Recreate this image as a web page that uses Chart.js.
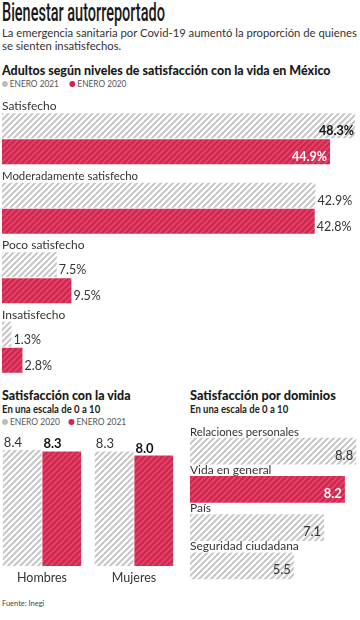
<!DOCTYPE html>
<html lang="es">
<head>
<meta charset="utf-8">
<title>Bienestar autorreportado</title>
<script src="https://cdn.jsdelivr.net/npm/chart.js@4.4.1/dist/chart.umd.min.js"></script>
<style>
  html, body { margin: 0; padding: 0; background: #fff; }
  body { width: 360px; height: 620px; position: relative; overflow: hidden;
         font-family: Lato, "Open Sans", sans-serif; color: #2a2a2a; }
  .abs { position: absolute; white-space: nowrap; transform-origin: left top; }
  canvas { position: absolute; }
  #titulo { left: 2px; top: 0px; font-family: Roboto, sans-serif; font-weight: 500; font-size: 25px; line-height: 26px; color: #1a1a1a; }
  #bajada { left: 2px; top: 27px; font-size: 11.5px; line-height: 12.5px; color: #333; }
  .seccion { font-weight: 900; font-size: 13.5px; color: #1a1a1a; }
  .escala { font-weight: 700; font-size: 11px; color: #222; }
  .leyenda { font-size: 8.5px; color: #555; }
  .punto { display: inline-block; width: 6px; height: 6px; border-radius: 50%; margin-right: 2px; vertical-align: 0px; }
  .gris { background: #bdbdbd; }
  .rojo { background: #d4234c; }
  #fuente { left: 2px; top: 598px; font-size: 8px; color: #444; }
</style>
</head>
<body>
<div class="abs" id="titulo" data-ancho="163">Bienestar autorreportado</div>
<div class="abs" id="bajada" data-ancho="355">La emergencia sanitaria por Covid-19 aumentó la proporción de quienes<br>se sienten insatisfechos.</div>

<div class="abs seccion" style="left:2px; top:62px;" data-ancho="329">Adultos según niveles de satisfacción con la vida en México</div>
<div class="abs leyenda" style="left:2px; top:79px;" data-ancho="124"><span class="punto gris"></span>ENERO 2021 &nbsp;&nbsp;&nbsp;&nbsp;<span class="punto rojo"></span>ENERO 2020</div>
<canvas id="niveles" width="360" height="292" style="left:0; top:92px;"></canvas>

<div class="abs seccion" style="left:2px; top:387px;" data-ancho="129">Satisfacción con la vida</div>
<div class="abs escala" style="left:2px; top:402px;" data-ancho="98">En una escala de 0 a 10</div>
<div class="abs leyenda" style="left:2px; top:417px;" data-ancho="124"><span class="punto gris"></span>ENERO 2020 &nbsp;&nbsp;&nbsp;<span class="punto rojo"></span>ENERO 2021</div>
<canvas id="vida" width="184" height="160" style="left:-4px; top:428px;"></canvas>

<div class="abs seccion" style="left:190px; top:387px;" data-ancho="146">Satisfacción por dominios</div>
<div class="abs escala" style="left:190px; top:402px;" data-ancho="98">En una escala de 0 a 10</div>
<canvas id="dominios" width="170" height="168" style="left:190px; top:420px;"></canvas>

<div class="abs" id="fuente" data-ancho="42">Fuente: Inegi</div>

<script>
// Datos: adultos según niveles de satisfacción (%)
const nivelesCategorias = ['Satisfecho', 'Moderadamente satisfecho', 'Poco satisfecho', 'Insatisfecho'];
const niveles2021 = [48.3, 42.9, 7.5, 1.3];
const niveles2020 = [44.9, 42.8, 9.5, 2.8];

// Datos: satisfacción con la vida (escala 0 a 10)
const vidaCategorias = ['Hombres', 'Mujeres'];
const vida2020 = [8.4, 8.3];
const vida2021 = [8.3, 8.0];

// Datos: satisfacción por dominios (escala 0 a 10)
const dominiosCategorias = ['Relaciones personales', 'Vida en general', 'País', 'Seguridad ciudadana'];
const dominiosValores = [8.8, 8.2, 7.1, 5.5];
const dominioDestacado = 1;

// Ajustar el ancho de los textos (la tipografía original es más angosta)
function ajustarTextos() {
    document.querySelectorAll('[data-ancho]').forEach(el => {
        el.style.transform = 'none';
        const w = el.offsetWidth;
        if (w > 0) el.style.transform = 'scaleX(' + (el.dataset.ancho / w) + ')';
    });
}
ajustarTextos();
if (document.fonts) document.fonts.ready.then(ajustarTextos);

// Rayado diagonal para las barras
function rayado(fondo, raya) {
    const c = document.createElement('canvas');
    c.width = 6; c.height = 6;
    const g = c.getContext('2d');
    g.fillStyle = fondo;
    g.fillRect(0, 0, 6, 6);
    g.strokeStyle = raya;
    g.lineWidth = 2;
    g.beginPath();
    g.moveTo(-3, 3); g.lineTo(3, -3);
    g.moveTo(0, 6); g.lineTo(6, 0);
    g.moveTo(3, 9); g.lineTo(9, 3);
    g.stroke();
    return g.createPattern(c, 'repeat');
}
const grisPat = rayado('#ffffff', '#c6c6c6');
const rojoPat = rayado('#d4234c', '#dd4467');

const FUENTE = 'Lato, "Open Sans", sans-serif';
const sinExtras = { legend: { display: false }, tooltip: { enabled: false } };

// Gráfico 1: barras horizontales con etiqueta arriba de cada grupo
const etiquetasNiveles = {
    id: 'etiquetasNiveles',
    afterDatasetsDraw(chart) {
        const ctx = chart.ctx;
        ctx.save();
        ctx.textBaseline = 'alphabetic';
        chart.getDatasetMeta(0).data.forEach((bar, i) => {
            ctx.font = '12px ' + FUENTE;
            ctx.fillStyle = '#333';
            ctx.textAlign = 'left';
            ctx.fillText(nivelesCategorias[i], 2, bar.y - bar.height / 2 - 3, 136);
        });
        [0, 1].forEach(d => {
            chart.getDatasetMeta(d).data.forEach((bar, i) => {
                const txt = chart.data.datasets[d].data[i].toFixed(1) + '%';
                const yb = bar.y + bar.height / 2 - 3;
                ctx.font = '12.5px ' + FUENTE;
                const w = ctx.measureText(txt).width;
                if (bar.x + 2 + w > chart.width - 2) {
                    ctx.font = 'bold 12.5px ' + FUENTE;
                    ctx.textAlign = 'right';
                    ctx.fillStyle = d === 1 ? '#fff' : '#111';
                    ctx.fillText(txt, bar.x - (d === 1 ? 3 : 1), yb);
                } else {
                    ctx.textAlign = 'left';
                    ctx.fillStyle = '#333';
                    ctx.fillText(txt, bar.x + 2, yb);
                }
            });
        });
        ctx.restore();
    }
};

new Chart(document.getElementById('niveles'), {
    type: 'bar',
    data: {
        labels: nivelesCategorias,
        datasets: [
            { label: 'ENERO 2021', data: niveles2021, backgroundColor: grisPat, categoryPercentage: 0.75, barPercentage: 0.96 },
            { label: 'ENERO 2020', data: niveles2020, backgroundColor: rojoPat, categoryPercentage: 0.75, barPercentage: 0.96 }
        ]
    },
    options: {
        indexAxis: 'y',
        responsive: false,
        animation: false,
        layout: { padding: { top: 12, bottom: 2, left: 2, right: 0 } },
        plugins: sinExtras,
        scales: {
            x: { display: false, min: 0, max: 49 },
            y: { display: false }
        }
    },
    plugins: [etiquetasNiveles]
});

// Gráfico 2: columnas por sexo
const etiquetasVida = {
    id: 'etiquetasVida',
    afterDatasetsDraw(chart) {
        const ctx = chart.ctx;
        ctx.save();
        ctx.textBaseline = 'alphabetic';
        [0, 1].forEach(d => {
            chart.getDatasetMeta(d).data.forEach((bar, i) => {
                const txt = chart.data.datasets[d].data[i].toFixed(1);
                ctx.textAlign = 'left';
                ctx.font = (d === 1 ? 'bold ' : '') + '13px ' + FUENTE;
                ctx.fillStyle = d === 1 ? '#111' : '#333';
                ctx.fillText(txt, bar.x - bar.width / 2 + 1, bar.y - 3);
            });
        });
        const g = chart.getDatasetMeta(0).data;
        const r = chart.getDatasetMeta(1).data;
        g.forEach((bar, i) => {
            ctx.textAlign = 'center';
            ctx.font = '12.5px ' + FUENTE;
            ctx.fillStyle = '#333';
            ctx.fillText(vidaCategorias[i], (bar.x + r[i].x) / 2, bar.base + 16);
        });
        ctx.restore();
    }
};

new Chart(document.getElementById('vida'), {
    type: 'bar',
    data: {
        labels: vidaCategorias,
        datasets: [
            { label: 'ENERO 2020', data: vida2020, backgroundColor: grisPat, categoryPercentage: 0.86, barPercentage: 0.98 },
            { label: 'ENERO 2021', data: vida2021, backgroundColor: rojoPat, categoryPercentage: 0.86, barPercentage: 0.98 }
        ]
    },
    options: {
        responsive: false,
        animation: false,
        layout: { padding: { top: 0, bottom: 22, left: 0, right: 0 } },
        plugins: sinExtras,
        scales: {
            x: { display: false },
            y: { display: false, min: 0, max: 10 }
        }
    },
    plugins: [etiquetasVida]
});

// Gráfico 3: barras horizontales por dominio
const etiquetasDominios = {
    id: 'etiquetasDominios',
    afterDatasetsDraw(chart) {
        const ctx = chart.ctx;
        ctx.save();
        ctx.textBaseline = 'alphabetic';
        chart.getDatasetMeta(0).data.forEach((bar, i) => {
            ctx.textAlign = 'left';
            ctx.font = '12px ' + FUENTE;
            ctx.fillStyle = '#333';
            ctx.fillText(dominiosCategorias[i], 0, bar.y - bar.height / 2 - 2, 109);
            const destacado = i === dominioDestacado;
            ctx.textAlign = 'right';
            ctx.font = (destacado ? 'bold ' : '') + '13px ' + FUENTE;
            ctx.fillStyle = destacado ? '#fff' : '#333';
            ctx.fillText(dominiosValores[i].toFixed(1), bar.x - 3, bar.y + bar.height / 2 - 5);
        });
        ctx.restore();
    }
};

new Chart(document.getElementById('dominios'), {
    type: 'bar',
    data: {
        labels: dominiosCategorias,
        datasets: [{
            data: dominiosValores,
            backgroundColor: dominiosValores.map((v, i) => i === dominioDestacado ? rojoPat : grisPat),
            categoryPercentage: 0.7,
            barPercentage: 1
        }]
    },
    options: {
        indexAxis: 'y',
        responsive: false,
        animation: false,
        layout: { padding: { top: 12, bottom: 3, left: 0, right: 0 } },
        plugins: sinExtras,
        scales: {
            x: { display: false, min: 0, max: 9 },
            y: { display: false }
        }
    },
    plugins: [etiquetasDominios]
});
</script>
</body>
</html>
